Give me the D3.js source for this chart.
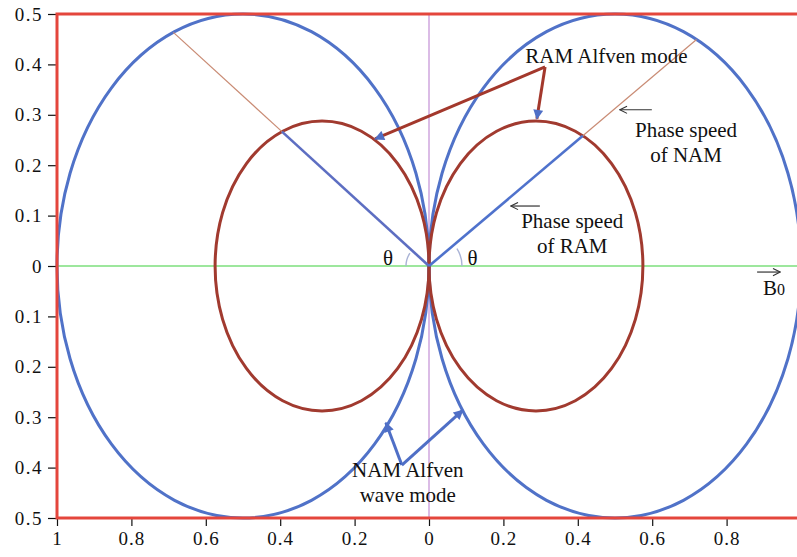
<!DOCTYPE html>
<html>
<head>
<meta charset="utf-8">
<script src="https://cdn.jsdelivr.net/npm/d3@7"></script>
<style>
  body { margin: 0; background: #fff; }
  svg text { font-family: "Liberation Serif", "DejaVu Serif", serif; fill: #111; }
</style>
</head>
<body>
<script>
// axis ticks (signed data values, labels shown as magnitudes)
var xTicks = [-1, -0.8, -0.6, -0.4, -0.2, 0, 0.2, 0.4, 0.6, 0.8];
var yTicks = [0.5, 0.4, 0.3, 0.2, 0.1, 0, -0.1, -0.2, -0.3, -0.4, -0.5];

// polar diagrams: diameter of each phase-speed circle (r = D cos θ)
var namDiameter = 1.0;
var ramDiameter = 0.575;
var sides = [-1, 1];

// directions of the drawn wave vectors, degrees from +B0
var phaseAngles = [146, 32];

// annotations, in data units
var ramArrow = {from: [0.312, 0.395], to: [[-0.145, 0.252], [0.290, 0.292]]};
var namArrow = {from: [-0.073, -0.395], to: [[-0.116, -0.311], [0.091, -0.286]]};
var smallArrows = [
  {from: [0.599, 0.310], to: [0.513, 0.310]},
  {from: [0.298, 0.119], to: [0.220, 0.119]},
  {from: [0.882, -0.012], to: [0.944, -0.012]}
];
var labels = [
  {x: 0.477, y: 0.403, lines: ["RAM Alfven mode"]},
  {x: -0.057, y: -0.419, lines: ["NAM Alfven", "wave mode"]},
  {x: 0.691, y: 0.256, lines: ["Phase speed", "of NAM"]},
  {x: 0.385, y: 0.075, lines: ["Phase speed", "of RAM"]}
];
var thetaLabels = [{x: -0.110, y: 0.0}, {x: 0.117, y: 0.0}];

var width = 797, height = 557;

var x = d3.scaleLinear().domain([-1, 1]).range([57, 801]);
var y = d3.scaleLinear().domain([-0.5, 0.5]).range([518, 14]);

var svg = d3.select("body").append("svg")
    .attr("width", width)
    .attr("height", height);

var defs = svg.append("defs");
defs.append("marker")
    .attr("id", "tri")
    .attr("markerUnits", "userSpaceOnUse")
    .attr("viewBox", "0 0 10 10")
    .attr("refX", 9).attr("refY", 5)
    .attr("markerWidth", 11).attr("markerHeight", 10)
    .attr("orient", "auto")
  .append("path")
    .attr("d", "M0,0L10,5L0,10Z")
    .attr("fill", "#4f6fc6");
defs.append("marker")
    .attr("id", "open")
    .attr("markerUnits", "userSpaceOnUse")
    .attr("viewBox", "0 0 10 10")
    .attr("refX", 9).attr("refY", 5)
    .attr("markerWidth", 9).attr("markerHeight", 9)
    .attr("orient", "auto")
  .append("path")
    .attr("d", "M1,1L9,5L1,9")
    .attr("fill", "none")
    .attr("stroke", "#333")
    .attr("stroke-width", 1.2);

// reference lines
svg.append("line")
    .attr("x1", x(-1)).attr("x2", x(1))
    .attr("y1", y(0)).attr("y2", y(0))
    .attr("stroke", "#7ddf7d").attr("stroke-width", 1.5);
svg.append("line")
    .attr("x1", x(0)).attr("x2", x(0))
    .attr("y1", y(0.5)).attr("y2", y(-0.5))
    .attr("stroke", "#cfa6de").attr("stroke-width", 1.5);

// NAM circles
svg.selectAll(".nam")
    .data(sides)
  .enter().append("ellipse")
    .attr("class", "nam")
    .attr("cx", function(s) { return x(s * namDiameter / 2); })
    .attr("cy", y(0))
    .attr("rx", x(namDiameter / 2) - x(0))
    .attr("ry", y(0) - y(namDiameter / 2))
    .attr("fill", "none")
    .attr("stroke", "#5072c8")
    .attr("stroke-width", 3);

// RAM circles
svg.selectAll(".ram")
    .data(sides)
  .enter().append("ellipse")
    .attr("class", "ram")
    .attr("cx", function(s) { return x(s * ramDiameter / 2); })
    .attr("cy", y(0))
    .attr("rx", x(ramDiameter / 2) - x(0))
    .attr("ry", y(0) - y(ramDiameter / 2))
    .attr("fill", "none")
    .attr("stroke", "#a13a2f")
    .attr("stroke-width", 3);

// wave vectors
function polarPoint(deg, d) {
  var a = deg * Math.PI / 180, r = d * Math.abs(Math.cos(a));
  return [r * Math.cos(a), r * Math.sin(a)];
}
phaseAngles.forEach(function(deg) {
  var pr = polarPoint(deg, ramDiameter), pn = polarPoint(deg, namDiameter);
  svg.append("line")
      .attr("x1", x(pr[0])).attr("y1", y(pr[1]))
      .attr("x2", x(pn[0])).attr("y2", y(pn[1]))
      .attr("stroke", "#c98b74").attr("stroke-width", 1.2);
  svg.append("line")
      .attr("x1", x(0)).attr("y1", y(0))
      .attr("x2", x(pr[0])).attr("y2", y(pr[1]))
      .attr("stroke", deg > 90 ? "#5d6ec2" : "#4f72cc").attr("stroke-width", 2.6);
});

// θ arcs
var arcR = [23, 33];
phaseAngles.forEach(function(deg, i) {
  var arc = d3.arc()
      .innerRadius(arcR[i]).outerRadius(arcR[i])
      .startAngle(deg > 90 ? -Math.PI / 2 : Math.PI / 2)
      .endAngle(deg > 90 ? -Math.PI / 2 + (180 - deg) * Math.PI / 180 : Math.PI / 2 - deg * Math.PI / 180);
  svg.append("path")
      .attr("transform", "translate(" + x(0) + "," + y(0) + ")")
      .attr("d", arc())
      .attr("fill", "none")
      .attr("stroke", "#aab3d6").attr("stroke-width", 1.4);
});

// callout arrows
[{a: ramArrow, c: "#a3382c"}, {a: namArrow, c: "#4f6fc6"}].forEach(function(o) {
  o.a.to.forEach(function(t) {
    svg.append("line")
        .attr("x1", x(o.a.from[0])).attr("y1", y(o.a.from[1]))
        .attr("x2", x(t[0])).attr("y2", y(t[1]))
        .attr("stroke", o.c).attr("stroke-width", 3)
        .attr("marker-end", "url(#tri)");
  });
});

svg.selectAll(".small-arrow")
    .data(smallArrows)
  .enter().append("line")
    .attr("class", "small-arrow")
    .attr("x1", function(d) { return x(d.from[0]); })
    .attr("y1", function(d) { return y(d.from[1]); })
    .attr("x2", function(d) { return x(d.to[0]); })
    .attr("y2", function(d) { return y(d.to[1]); })
    .attr("stroke", "#333").attr("stroke-width", 1.2)
    .attr("marker-end", "url(#open)");

// texts
labels.forEach(function(l) {
  var t = svg.append("text")
      .attr("text-anchor", "middle")
      .style("font-size", "21px");
  l.lines.forEach(function(s, i) {
    t.append("tspan")
        .attr("x", x(l.x))
        .attr("y", y(l.y) + i * 25)
        .text(s);
  });
});

svg.selectAll(".theta")
    .data(thetaLabels)
  .enter().append("text")
    .attr("class", "theta")
    .attr("x", function(d) { return x(d.x); })
    .attr("y", function(d) { return y(d.y) - 1; })
    .attr("text-anchor", "middle")
    .style("font-size", "21px")
    .text("θ");

var b0 = svg.append("text")
    .attr("x", x(0.898)).attr("y", y(-0.058))
    .style("font-size", "21px");
b0.append("tspan").text("B");
b0.append("tspan").style("font-size", "16px").text("0");

// axes
var fmt = function(d) { return String(Math.abs(+d.toFixed(1))); };

var xAxis = svg.append("g")
    .attr("transform", "translate(0," + y(-0.5) + ")")
    .call(d3.axisBottom(x).tickValues(xTicks).tickFormat(fmt).tickSize(8).tickPadding(6));
var yAxis = svg.append("g")
    .attr("transform", "translate(" + x(-1) + ",0)")
    .call(d3.axisLeft(y).tickValues(yTicks).tickFormat(fmt).tickSize(9).tickPadding(5));

[xAxis, yAxis].forEach(function(g, i) {
  g.select(".domain").remove();
  g.selectAll(".tick line").attr("stroke", "#111").attr("stroke-width", 1.2);
  g.selectAll(".tick text")
      .style("font-family", "'Liberation Serif', serif")
      .style("font-size", "19px")
      .style("letter-spacing", i ? "1.5px" : "1px")
      .attr("fill", "#111");
});

// red frame
svg.append("rect")
    .attr("x", x(-1)).attr("y", y(0.5))
    .attr("width", x(1) - x(-1))
    .attr("height", y(-0.5) - y(0.5))
    .attr("fill", "none")
    .attr("stroke", "#e4463c")
    .attr("stroke-width", 3);
</script>
</body>
</html>
